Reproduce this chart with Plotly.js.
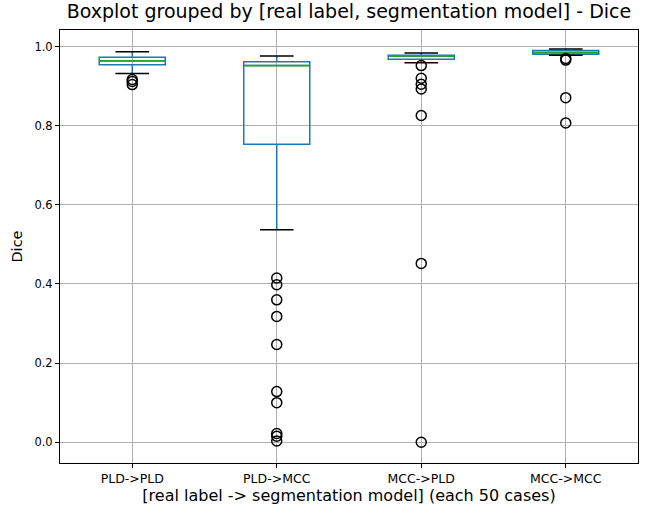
<!DOCTYPE html>
<html><head><meta charset="utf-8">
<script src="https://cdn.plot.ly/plotly-3.0.1.min.js"></script>
<style>body{margin:0;background:#fff}#chart{width:645px;height:512px}</style>
</head><body><div id="chart"></div>
<script>
const categories = ["PLD->PLD", "PLD->MCC", "MCC->PLD", "MCC->MCC"];
const q1 = [0.954, 0.753, 0.968, 0.981];
const median = [0.964, 0.952, 0.976, 0.985];
const q3 = [0.973, 0.962, 0.978, 0.990];
const lowerWhisker = [0.932, 0.537, 0.959, 0.978];
const upperWhisker = [0.987, 0.976, 0.984, 0.994];
const outliers = [
  [0.917, 0.912, 0.904],
  [0.415, 0.398, 0.360, 0.318, 0.247, 0.128, 0.100, 0.022, 0.015, 0.003],
  [0.952, 0.920, 0.905, 0.893, 0.826, 0.452, 0.0],
  [0.970, 0.966, 0.871, 0.807]
];

const outX = [], outY = [];
outliers.forEach((arr, i) => arr.forEach(v => { outX.push(categories[i]); outY.push(v); }));

const BLUE = '#1f77b4', GREEN = '#2ca02c';
const data = [
  {
    type: 'box', x: categories, q1: q1, median: median, q3: q3,
    lowerfence: lowerWhisker, upperfence: upperWhisker,
    width: 0.457, whiskerwidth: 0, boxpoints: false,
    line: {color: BLUE, width: 1.5}, fillcolor: 'rgba(0,0,0,0)',
    hoverinfo: 'skip', showlegend: false
  },
  {
    type: 'scatter', mode: 'markers', x: categories, y: median,
    marker: {symbol: 'line-ew', size: 46, line: {color: GREEN, width: 1.7}},
    showlegend: false, hoverinfo: 'skip'
  },
  {
    type: 'scatter', mode: 'markers', x: categories.concat(categories),
    y: lowerWhisker.concat(upperWhisker),
    marker: {symbol: 'line-ew', size: 24, line: {color: '#000', width: 1.5}},
    showlegend: false, hoverinfo: 'skip'
  },
  {
    type: 'scatter', mode: 'markers', x: outX, y: outY,
    marker: {symbol: 'circle-open', size: 10, color: '#000', line: {color: '#000', width: 1.5}},
    showlegend: false, hoverinfo: 'skip'
  }
];

const layout = {
  width: 645, height: 512,
  margin: {l: 60, r: 7, t: 30, b: 49},
  paper_bgcolor: '#fff', plot_bgcolor: '#fff',
  font: {family: 'DejaVu Sans', color: '#000'},
  title: {text: 'Boxplot grouped by [real label, segmentation model] - Dice',
          font: {size: 19, color: '#000'}, x: 0.541, xanchor: 'center', y: 0.99, yanchor: 'top'},
  xaxis: {
    type: 'category', categoryorder: 'array', categoryarray: categories,
    range: [-0.5, 3.5], showgrid: true, gridcolor: '#b0b0b0', gridwidth: 1,
    showline: true, linecolor: '#000', linewidth: 1, mirror: true,
    ticks: 'outside', ticklen: 4, tickcolor: '#000', tickfont: {size: 12.5},
    zeroline: false,
    title: {text: '[real label -> segmentation model] (each 50 cases)', font: {size: 16}, standoff: 4}
  },
  yaxis: {
    range: [-0.0525, 1.042], tickvals: [0, 0.2, 0.4, 0.6, 0.8, 1.0], tickformat: '.1f',
    showgrid: true, gridcolor: '#b0b0b0', gridwidth: 1,
    showline: true, linecolor: '#000', linewidth: 1, mirror: true,
    ticks: 'outside', ticklen: 4, tickcolor: '#000', tickfont: {size: 11.5},
    zeroline: false,
    title: {text: 'Dice', font: {size: 14.5}, standoff: 8}
  }
};
Plotly.newPlot('chart', data, layout, {displayModeBar: false, staticPlot: true});
</script>
</body></html>
